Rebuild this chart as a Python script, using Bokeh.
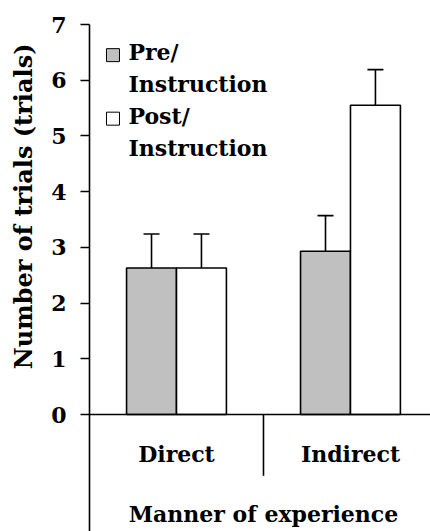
from bokeh.plotting import figure
from bokeh.models import (ColumnDataSource, Range1d, FixedTicker, Span, Whisker,
                          TeeHead, Title)
from bokeh.core.properties import value
from bokeh.embed import file_html
from bokeh.resources import INLINE

categories = ["Direct", "Indirect"]
series_names = ["Pre/", "Post/"]
series_suffix = "Instruction"
pre_values = [2.63, 2.93]
post_values = [2.63, 5.55]
pre_errors = [0.61, 0.64]
post_errors = [0.61, 0.64]
y_ticks = [0, 1, 2, 3, 4, 5, 6, 7]
y_title = "Number of trials (trials)"
x_title = "Manner of experience"

FONT = "DejaVu Serif"
FS = "22px"
BAR_W = 0.287
LW = 1.6
centers = [i + 0.5 for i in range(len(categories))]

p = figure(width=434, height=531, output_backend="svg", toolbar_location=None,
           x_range=Range1d(0, 1.96), y_range=Range1d(-2.1, 7),
           min_border_left=89, min_border_right=0, min_border_top=24,
           min_border_bottom=0)
p.styles = {"margin-left": "-4px"}
p.xaxis.visible = False
p.xgrid.visible = False
p.ygrid.visible = False
p.outline_line_color = None
p.background_fill_color = "white"

ya = p.yaxis[0]
ya.ticker = FixedTicker(ticks=y_ticks)
ya.minor_tick_line_color = None
ya.major_tick_in = 0
ya.major_tick_out = 9
ya.major_tick_line_width = LW
ya.axis_line_width = LW
ya.major_label_standoff = 14
ya.major_label_text_font = FONT
ya.major_label_text_font_style = "bold"
ya.major_label_text_font_size = FS
ya.major_label_text_color = "black"

pre_src = ColumnDataSource(dict(x=[c - BAR_W / 2 for c in centers], top=pre_values,
                                upper=[v + e for v, e in zip(pre_values, pre_errors)]))
post_src = ColumnDataSource(dict(x=[c + BAR_W / 2 for c in centers], top=post_values,
                                 upper=[v + e for v, e in zip(post_values, post_errors)]))

for src in (pre_src, post_src):
    w = Whisker(base="x", lower="top", upper="upper", source=src, dimension="height",
                line_color="black", line_width=LW, lower_head=None,
                upper_head=TeeHead(size=16, line_color="black", line_width=LW))
    p.add_layout(w)

r_pre = p.vbar(x="x", top="top", bottom=0, width=BAR_W, source=pre_src,
               fill_color="#C0C0C0", line_color="black", line_width=LW)
r_post = p.vbar(x="x", top="top", bottom=0, width=BAR_W, source=post_src,
                fill_color="white", line_color="black", line_width=LW)

p.add_layout(Span(location=0, dimension="width", line_color="black", line_width=LW))
p.segment(x0=[1], y0=[0], x1=[1], y1=[-1.1], line_color="black", line_width=LW)

p.text(x=centers, y=[-0.70] * len(categories), text=categories,
       text_font=value(FONT), text_font_style="bold", text_font_size=FS,
       text_align="center", text_baseline="middle", text_color="black")
p.text(x=[1.0], y=[-1.78], text=[x_title],
       text_font=value(FONT), text_font_style="bold", text_font_size=FS,
       text_align="center", text_baseline="middle", text_color="black")

# legend (drawn inside the plot area)
leg_y = [6.45, 5.31]
p.scatter(x=[0.135] * 2, y=leg_y, marker="square", size=13,
          fill_color=["#C0C0C0", "white"], line_color="black", line_width=1)
p.text(x=[0.224] * 2, y=[y + 0.05 for y in leg_y], text=series_names,
       text_font=value(FONT), text_font_style="bold", text_font_size=FS,
       text_align="left", text_baseline="middle", text_color="black")
p.text(x=[0.224] * 2, y=[y - 0.52 for y in leg_y], text=[series_suffix] * 2,
       text_font=value(FONT), text_font_style="bold", text_font_size=FS,
       text_align="left", text_baseline="middle", text_color="black")

p.add_layout(Title(text=y_title, align="right", offset=19, standoff=21,
                   text_font=FONT, text_font_style="bold", text_font_size="24px",
                   text_color="black"), "left")

open("out.html", "w").write(file_html(p, INLINE))
